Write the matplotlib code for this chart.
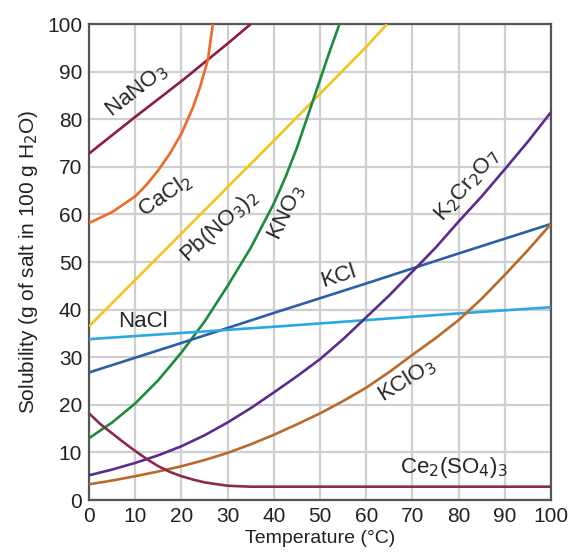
import matplotlib
matplotlib.use("Agg")
import matplotlib.pyplot as plt

plt.rcParams['font.family'] = ['Liberation Sans', 'DejaVu Sans']

# Data (temperature °C -> solubility g / 100 g H2O)
nano3_t = [0, 10, 20, 30, 35]
nano3_s = [72.8, 80.5, 88, 95.9, 100]

cacl2_t = [0, 5, 10, 12.5, 15, 17.5, 20, 22.5, 24, 25.7, 26.8]
cacl2_s = [58.2, 60.5, 63.8, 66.3, 69.3, 72.8, 77, 82.5, 86.7, 92.4, 100]

pbno3_t = [0, 20, 40, 60, 64.5]
pbno3_s = [36.5, 56, 75.5, 95.2, 100]

kno3_t = [0, 5, 10, 15, 20, 25, 30, 35, 40, 42.5, 45, 48.5, 52, 54.2]
kno3_s = [13, 16.3, 20.3, 25.2, 31, 37.5, 45, 53, 62.3, 67.8, 74, 84, 94, 100]

kcl_t = [0, 20, 40, 60, 80, 100]
kcl_s = [26.8, 33, 39.3, 45.5, 51.8, 58]

nacl_t = [0, 20, 40, 60, 80, 100]
nacl_s = [33.8, 35.1, 36.4, 37.8, 39.2, 40.5]

k2cr_t = [0, 5, 10, 15, 20, 25, 30, 35, 40, 45, 50, 55, 60, 65, 70, 75, 80, 85, 90, 95, 100]
k2cr_s = [5.2, 6.4, 7.8, 9.4, 11.3, 13.6, 16.3, 19.3, 22.6, 26, 29.6, 33.8, 38.4, 43, 48, 53, 58.5, 63.8, 69.5, 75.3, 81.5]

kclo3_t = [0, 5, 10, 15, 20, 25, 30, 35, 40, 45, 50, 55, 60, 65, 70, 75, 80, 85, 90, 95, 100]
kclo3_s = [3.3, 4.1, 5.0, 6.0, 7.1, 8.4, 9.9, 11.7, 13.7, 15.9, 18.2, 20.8, 23.6, 26.9, 30.5, 34.0, 37.8, 42.3, 47.3, 52.5, 58]

ce_t = [0, 2.5, 5, 7.5, 10, 12.5, 15, 17.5, 20, 22.5, 25, 30, 35, 40, 100]
ce_s = [18.2, 15.9, 14, 12.1, 10.3, 8.6, 7.1, 5.9, 5.0, 4.3, 3.7, 3.0, 2.8, 2.8, 2.8]

series = [
    (nano3_t, nano3_s, '#8c1d3f'),
    (cacl2_t, cacl2_s, '#f0682a'),
    (pbno3_t, pbno3_s, '#f2c41c'),
    (kno3_t, kno3_s, '#1d8b3e'),
    (kcl_t, kcl_s, '#2b5fa8'),
    (nacl_t, nacl_s, '#2aa9e1'),
    (k2cr_t, k2cr_s, '#5a2c8c'),
    (kclo3_t, kclo3_s, '#b86a2b'),
    (ce_t, ce_s, '#8a2a52'),
]

labels = [
    ('NaNO$_3$', 10.4, 86.0, 38),
    ('CaCl$_2$', 16.5, 64.0, 34),
    ('Pb(NO$_3$)$_2$', 28.3, 57.4, 42),
    ('KNO$_3$', 42.9, 60.3, 64),
    ('K$_2$Cr$_2$O$_7$', 81.8, 66.0, 49),
    ('KCl', 54.0, 47.0, 18),
    ('NaCl', 11.7, 37.6, 0),
    ('KClO$_3$', 68.8, 25.2, 32),
    ('Ce$_2$(SO$_4$)$_3$', 79.0, 6.9, 0),
]

fig = plt.figure(figsize=(5.71, 5.59), dpi=100)
ax = fig.add_axes([0.156, 0.1055, 0.809, 0.8515])

for t, s, c in series:
    ax.plot(t, s, color=c, lw=1.9, solid_capstyle='butt',
            solid_joinstyle='round', zorder=3)

for txt, x, y, rot in labels:
    ax.text(x, y, txt, rotation=rot, ha='center', va='center',
            fontsize=16, color='#262626', rotation_mode='anchor', zorder=4)

ax.set_xlim(0, 100)
ax.set_ylim(0, 100)
ax.set_xticks(range(0, 101, 10))
ax.set_yticks(range(0, 101, 10))
ax.grid(True, color='#cfcfcf', lw=1.6, zorder=0)
ax.set_axisbelow(True)
ax.tick_params(length=0, labelsize=15, pad=5, colors='#222222')
for sp in ax.spines.values():
    sp.set_color('#555555')
    sp.set_linewidth(1.6)
ax.set_xlabel('Temperature (°C)', fontsize=14, color='#222222', labelpad=3)
ax.set_ylabel('Solubility (g of salt in 100 g H$_2$O)', fontsize=15, color='#222222', labelpad=5)

fig.savefig('out.png', dpi=100)
